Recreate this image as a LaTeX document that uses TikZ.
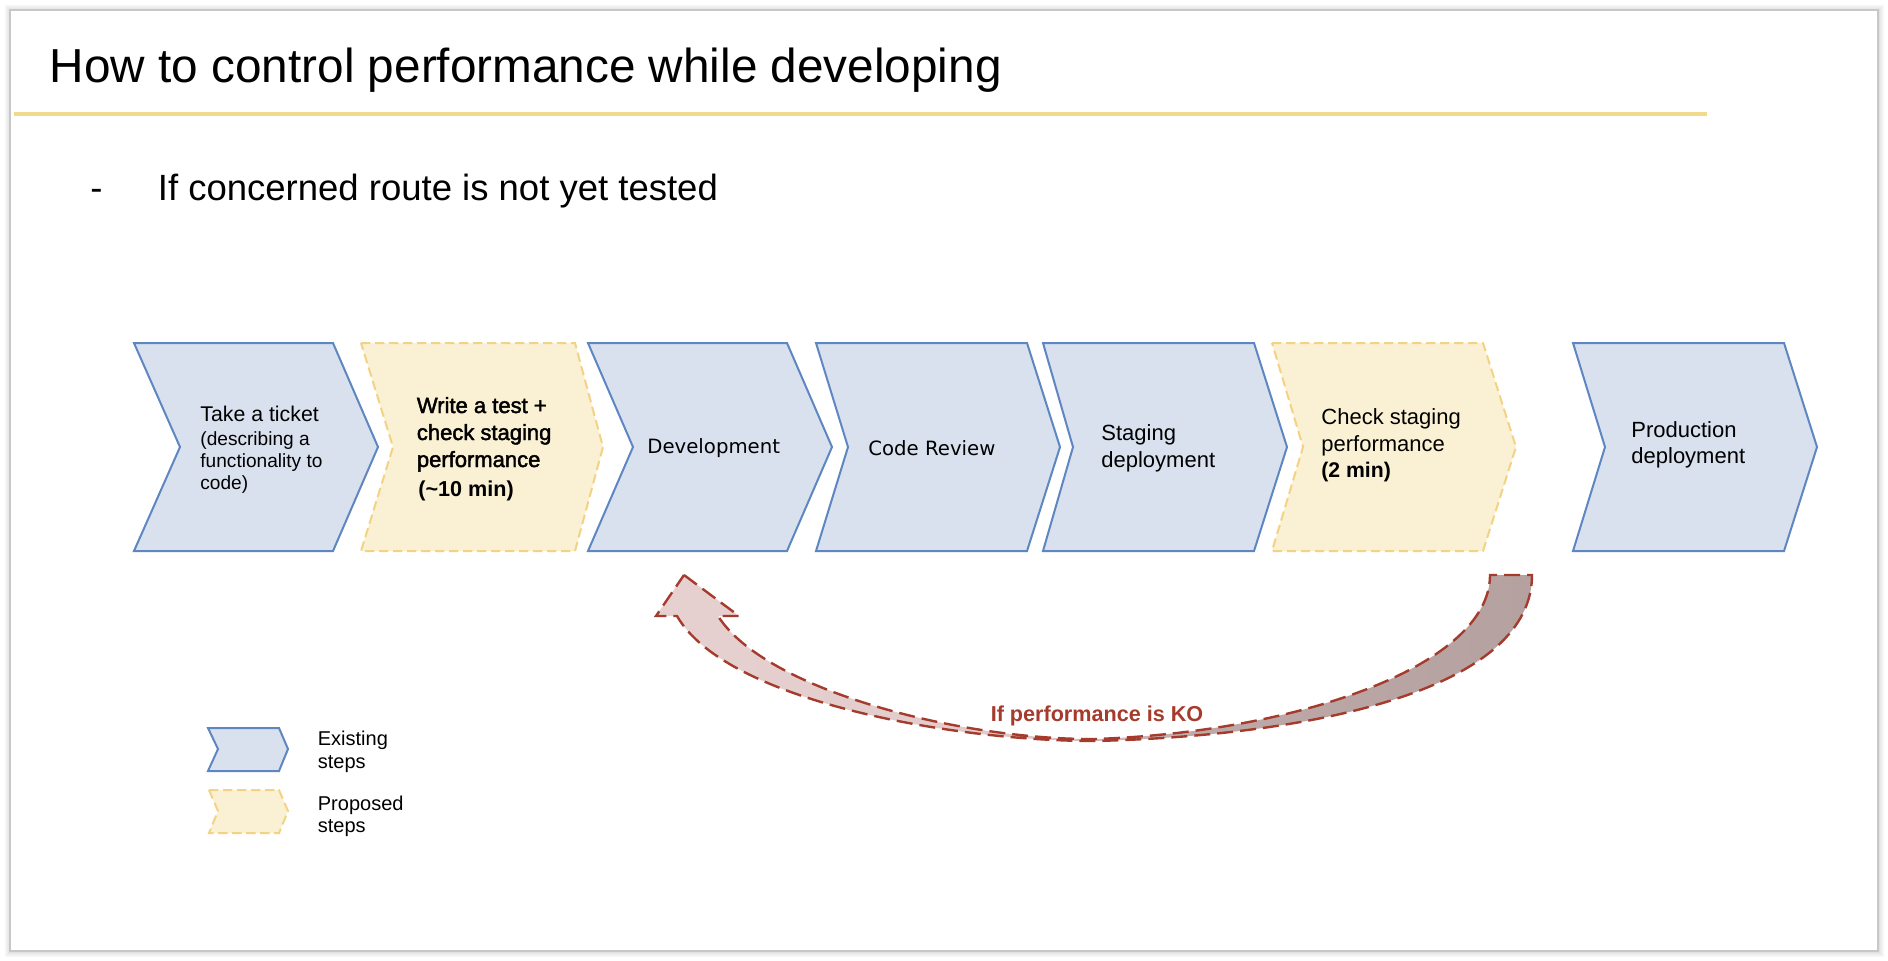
\documentclass[tikz,border=0pt]{standalone}
\usepackage{fontspec}
\setmainfont{Liberation Sans}
\newfontfamily\dvsans{DejaVu Sans}
\newfontfamily\medsans[FakeBold=2]{Liberation Sans}
\definecolor{chevfill}{HTML}{D9E1EE}
\definecolor{chevline}{HTML}{5E87C2}
\definecolor{propfill}{HTML}{FAF0D3}
\definecolor{propline}{HTML}{F3D383}
\definecolor{rulecol}{HTML}{F2D98C}
\definecolor{kored}{HTML}{A53B2C}
\definecolor{arrowA}{HTML}{E7D1D0}
\definecolor{arrowB}{HTML}{E2CCCB}
\definecolor{arrowC}{HTML}{D3BFBE}
\definecolor{arrowD}{HTML}{BDAAA8}
\definecolor{arrowE}{HTML}{B5A2A0}
\pgfdeclarehorizontalshading{koarrow}{100bp}{color(0bp)=(arrowA); color(25bp)=(arrowA); color(44bp)=(arrowB); color(50bp)=(arrowC); color(56bp)=(arrowD); color(75bp)=(arrowE); color(100bp)=(arrowE)}
\newcommand{\stepchev}[5]{\path[#1] (#2,343) -- (#4,343) -- (#5,447) -- (#4,551) -- (#2,551) -- (#3,447) -- cycle;}
\begin{document}
\begin{tikzpicture}[x=0.5pt,y=-0.5pt,
  existing/.style={fill=chevfill,draw=chevline,line width=1pt,line join=miter},
  proposed/.style={fill=propfill,draw=propline,line width=1pt,dash pattern=on 4.7pt off 2.3pt},
  txt/.style={anchor=base west,inner sep=0pt,font=\fontsize{11}{13}\selectfont},
  medtxt/.style={txt,font=\medsans\fontsize{11}{13}\selectfont},
  smalltxt/.style={txt,font=\fontsize{9.55}{11}\selectfont},
  dvtxt/.style={txt,font=\dvsans\fontsize{9.85}{12}\selectfont},
  legtxt/.style={txt,font=\fontsize{10}{12}\selectfont}]
\useasboundingbox (0,0) rectangle (1888,960);
\fill[white] (0,0) rectangle (1888,960);
% slide frame with soft shadow
\foreach \d/\op in {5/0.03,4/0.05,3/0.07,2/0.09,1/0.12}{
  \draw[black,opacity=\op,line width=0.5pt] (10-\d,10-\d) rectangle (1878+\d,951+\d);}
\draw[black!22,line width=0.6pt] (10,10) rectangle (1878,951);

% title and rule
\node[txt,font=\fontsize{23.85}{28}\selectfont] (title) at (49.5,82) {How to control performance while developing};
\draw[rulecol,line width=2pt] (14,114) -- (1707,114);

% bullet
\node[txt,font=\fontsize{18.25}{22}\selectfont] (dash) at (90,200) {-};
\node[txt,font=\fontsize{18.25}{22}\selectfont] (sub) at (157.5,200) {If concerned route is not yet tested};

% chevrons
\stepchev{existing}{134}{180}{333}{378}
\stepchev{proposed}{361}{393}{575}{603}
\stepchev{existing}{588}{633}{787}{832}
\stepchev{existing}{816}{848}{1027}{1060}
\stepchev{existing}{1043}{1073}{1254}{1287}
\stepchev{proposed}{1272}{1303}{1483}{1516}
\stepchev{existing}{1573}{1605}{1784}{1817}

% chevron texts
\node[txt,font=\fontsize{10.65}{13}\selectfont] (c1a) at (200,421) {Take a ticket};
\node[smalltxt] (c1b) at (200,445) {(describing a};
\node[smalltxt] (c1c) at (200,467) {functionality to};
\node[smalltxt] (c1d) at (200,489) {code)};

\node[medtxt] (c2a) at (416.5,413) {Write a test +};
\node[medtxt] (c2b) at (416.5,440) {check staging};
\node[medtxt] (c2c) at (416.5,467) {performance};
\node[txt,font=\bfseries\fontsize{10.8}{13}\selectfont] (c2d) at (418,496) {(\textasciitilde10 min)};

\node[dvtxt] (c3) at (647,453) {Development};
\node[dvtxt] (c4) at (868,455) {Code Review};

\node[txt] (c5a) at (1101,440) {Staging};
\node[txt] (c5b) at (1101,467) {deployment};

\node[txt] (c6a) at (1321,424) {Check staging};
\node[txt] (c6b) at (1321,451) {performance};
\node[txt,font=\bfseries\fontsize{10.6}{13}\selectfont] (c6c) at (1321,477) {(2 min)};

\node[txt] (c7a) at (1631,437) {Production};
\node[txt] (c7b) at (1631,463) {deployment};

% feedback arrow
\path[draw=kored,line width=1.2pt,dash pattern=on 8pt off 3.5pt,shading=koarrow]
  (684,575) -- (739,616) -- (718,616)
  .. controls (765,690) and (960,740) .. (1095,739)
  .. controls (1300,732) and (1490,665) .. (1490,575)
  -- (1532,575)
  .. controls (1532,685) and (1330,735) .. (1095,741)
  .. controls (950,741) and (725,700) .. (677,616)
  -- (656,616) -- cycle;
\node[anchor=base,inner sep=0pt,text=kored,font=\bfseries\fontsize{10.8}{12}\selectfont] (ko) at (1097,721) {If performance is KO};

% legend
\path[existing] (208,728) -- (279,728) -- (288,749) -- (279,771) -- (208,771) -- (218,749) -- cycle;
\path[proposed] (209,790) -- (279,790) -- (288,811) -- (279,833) -- (209,833) -- (218,811) -- cycle;
\node[legtxt] (lg1a) at (317.5,745) {Existing};
\node[legtxt] (lg1b) at (317.5,768) {steps};
\node[legtxt] (lg2a) at (317.5,810) {Proposed};
\node[legtxt] (lg2b) at (317.5,832) {steps};
\end{tikzpicture}
\end{document}
